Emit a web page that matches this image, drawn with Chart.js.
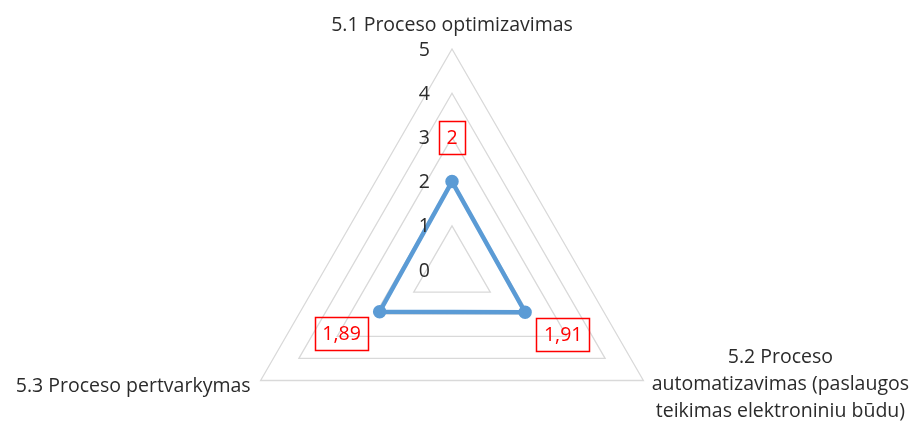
<!DOCTYPE html>
<html>
<head>
<meta charset="utf-8">
<script src="https://cdn.jsdelivr.net/npm/chart.js@4/dist/chart.umd.min.js"></script>
<style>
    html, body { margin: 0; padding: 0; background: #fff; }
    #wrap { width: 916px; height: 421px; }
</style>
</head>
<body>
<div id="wrap"><canvas id="radarChart"></canvas></div>
<script>
// 数据
const categories = [
    ['5.1 Proceso optimizavimas'],
    ['5.2 Proceso', 'automatizavimas (paslaugos', 'teikimas elektroniniu būdu)'],
    ['5.3 Proceso pertvarkymas']
];
const values = [2, 1.91, 1.89];
const valueLabels = ['2', '1,91', '1,89'];
const tickValues = [0, 1, 2, 3, 4, 5];
const tickLabels = ['0', '1', '2', '3', '4', '5'];

const FONT = '19.5px "Open Sans", sans-serif';
const TEXT_COLOR = '#2b2b2b';

// 自己画的标签
const labelPlugin = {
    id: 'labelPlugin',
    afterDatasetsDraw(chart) {
        const ctx = chart.ctx;
        const scale = chart.scales.r;
        const meta = chart.getDatasetMeta(0);
        ctx.save();
        ctx.font = FONT;
        ctx.textAlign = 'center';
        ctx.textBaseline = 'middle';

        // 数据标签 (红框)
        meta.data.forEach((pt, i) => {
            const dist = scale.getDistanceFromCenterForValue(values[i]) + 44;
            const pos = scale.getPointPosition(i, dist);
            const w = ctx.measureText(valueLabels[i]).width + 15;
            const h = 33;
            ctx.strokeStyle = '#ff0000';
            ctx.lineWidth = 1.5;
            ctx.strokeRect(Math.round(pos.x - w / 2) + 0.5, Math.round(pos.y - h / 2) + 0.5, Math.round(w), h);
            ctx.fillStyle = '#ff0000';
            ctx.fillText(valueLabels[i], pos.x, pos.y + 1);
        });

        // 刻度
        ctx.fillStyle = TEXT_COLOR;
        ctx.textAlign = 'right';
        tickValues.forEach((v, i) => {
            const y = scale.yCenter - scale.getDistanceFromCenterForValue(v);
            ctx.fillText(tickLabels[i], scale.xCenter - 22, y + 1);
        });

        // 轴名称
        const r = scale.drawingArea;
        const top = scale.getPointPosition(0, r);
        ctx.textAlign = 'center';
        ctx.fillText(categories[0][0], top.x, top.y - 24);

        const right = scale.getPointPosition(1, r);
        categories[1].forEach((line, j) => {
            ctx.fillText(line, right.x + 137, right.y - 23 + j * 27);
        });

        const left = scale.getPointPosition(2, r);
        ctx.textAlign = 'right';
        ctx.fillText(categories[2][0], left.x - 10, left.y + 6);
        ctx.restore();
    }
};

new Chart(document.getElementById('radarChart'), {
    type: 'radar',
    data: {
        labels: categories,
        datasets: [{
            data: values,
            borderColor: '#5b9bd5',
            backgroundColor: '#5b9bd5',
            pointBackgroundColor: '#5b9bd5',
            pointBorderColor: '#5b9bd5',
            borderWidth: 4.5,
            pointRadius: 4.5,
            fill: false,
            tension: 0
        }]
    },
    options: {
        responsive: true,
        maintainAspectRatio: false,
        animation: false,
        events: [],
        plugins: {
            legend: { display: false },
            tooltip: { enabled: false }
        },
        scales: {
            r: {
                min: 0,
                max: 5,
                ticks: { display: false, stepSize: 1 },
                angleLines: { display: false },
                grid: { color: '#d9d9d9', lineWidth: 1.3 },
                pointLabels: { display: false },
                afterFit(scale) {
                    // 固定中心和半径
                    scale.xCenter = 452;
                    scale.yCenter = 270;
                    scale.drawingArea = 221;
                }
            }
        }
    },
    plugins: [labelPlugin]
});
</script>
</body>
</html>
